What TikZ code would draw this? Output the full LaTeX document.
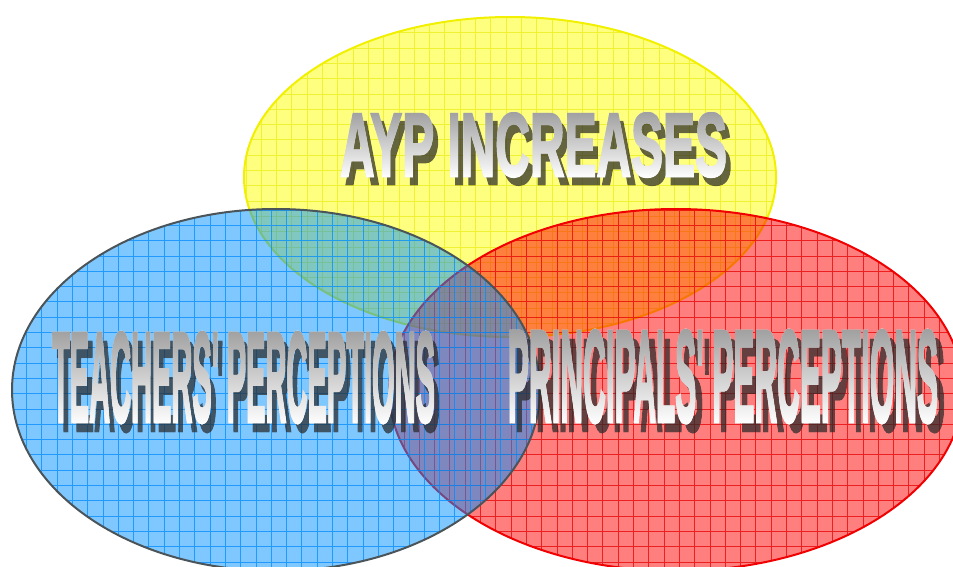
\documentclass[tikz,border=0pt]{standalone}
\usepackage{fontspec}
\usepackage{graphicx}
\newfontfamily\wafont{Liberation Sans}[BoldFeatures={FakeBold=2.5}]
\usetikzlibrary{fadings,calc}
\definecolor{ylfill}{RGB}{255,255,0}
\definecolor{ylline}{RGB}{232,232,0}
\definecolor{ylstroke}{RGB}{240,240,0}
\definecolor{blfill}{RGB}{0,145,255}
\definecolor{blline}{RGB}{0,140,255}
\definecolor{blstroke}{RGB}{74,84,89}
\definecolor{rdfill}{RGB}{255,0,0}
\definecolor{rdline}{RGB}{230,0,0}
\definecolor{rdstroke}{RGB}{240,0,0}
\definecolor{warttop}{RGB}{160,160,160}
\definecolor{wartmid}{RGB}{215,215,215}
\definecolor{wartshadow}{RGB}{40,40,40}
\newcommand{\wordart}[3]{\resizebox*{#1}{#2}{\wafont\bfseries #3}}
\begin{document}
\pgfdeclarefading{fadeA}{\color{white}\wordart{387pt}{64pt}{AYP INCREASES}}%
\pgfdeclarefading{fadeT}{\color{white}\wordart{383pt}{91pt}{TEACHERS' PERCEPTIONS}}%
\pgfdeclarefading{fadeP}{\color{white}\wordart{430pt}{93pt}{PRINCIPALS' PERCEPTIONS}}%
\begin{tikzpicture}[x=1pt,y=-1pt,
  gridlines/.style={line width=0.6pt, step=15.3pt},
  ellfill/.style={fill opacity=0.5},
  ellstroke/.style={line width=2pt},
  wart/.style={inner sep=0pt, text=wartmid},
  wartshade/.style 2 args={path fading=#1, fit fading=false, fading transform={shift={(#2)}}, top color=warttop, bottom color=white},
  wartshadowfill/.style 2 args={path fading=#1, fit fading=false, fading transform={shift={(#2)}}, fill=wartshadow, fill opacity=0.72}]
\useasboundingbox (0,0) rectangle (953,566);
\clip (0,0) rectangle (953,566);
% yellow ellipse
\begin{scope}
  \clip (510,177) ellipse [x radius=266, y radius=160];
  \fill[ylfill, ellfill] (0,0) rectangle (960,580);
  \draw[ylline, gridlines, draw opacity=0.6, shift={(1,2)}] (-20,-20) grid (980,600);
\end{scope}
\draw[ylstroke, ellstroke] (510,177) ellipse [x radius=266, y radius=160];
% red ellipse
\begin{scope}
  \clip (676,390) ellipse [x radius=287, y radius=181];
  \fill[rdfill, ellfill] (0,0) rectangle (960,580);
  \draw[rdline, gridlines, draw opacity=0.75, shift={(6,11)}] (-20,-20) grid (980,600);
\end{scope}
\draw[rdstroke, ellstroke] (676,390) ellipse [x radius=287, y radius=181];
% blue ellipse
\begin{scope}
  \clip (276,390) ellipse [x radius=264, y radius=181];
  \fill[blfill, ellfill] (0,0) rectangle (960,580);
  \draw[blline, gridlines, draw opacity=0.75, shift={(11,11)}] (-20,-20) grid (980,600);
\end{scope}
\draw[blstroke, ellstroke] (276,390) ellipse [x radius=264, y radius=181];
% text centres
\coordinate (cA) at (533.5,145);
\coordinate (cT) at (243.5,377.5);
\coordinate (cP) at (723,376.5);
\coordinate (sA) at ($(cA)+(5,8)$);
\coordinate (sT) at ($(cT)+(5,9)$);
\coordinate (sP) at ($(cP)+(7,9)$);
% shadows
\fill[wartshadowfill={fadeA}{sA}] ($(sA)+(-200,-36)$) rectangle ($(sA)+(200,36)$);
\fill[wartshadowfill={fadeT}{sT}] ($(sT)+(-200,-50)$) rectangle ($(sT)+(200,50)$);
\fill[wartshadowfill={fadeP}{sP}] ($(sP)+(-225,-50)$) rectangle ($(sP)+(225,50)$);
% texts
\node[wart] (tA) at (cA) {\wordart{387pt}{64pt}{AYP INCREASES}};
\node[wart] (tT) at (cT) {\wordart{383pt}{91pt}{TEACHERS' PERCEPTIONS}};
\node[wart] (tP) at (cP) {\wordart{430pt}{93pt}{PRINCIPALS' PERCEPTIONS}};
% gradient over texts
\shade[wartshade={fadeA}{tA.center}] ($(tA.center)+(-200,-33)$) rectangle ($(tA.center)+(200,33)$);
\shade[wartshade={fadeT}{tT.center}] ($(tT.center)+(-200,-47)$) rectangle ($(tT.center)+(200,47)$);
\shade[wartshade={fadeP}{tP.center}] ($(tP.center)+(-225,-48)$) rectangle ($(tP.center)+(225,48)$);
\end{tikzpicture}
\end{document}
